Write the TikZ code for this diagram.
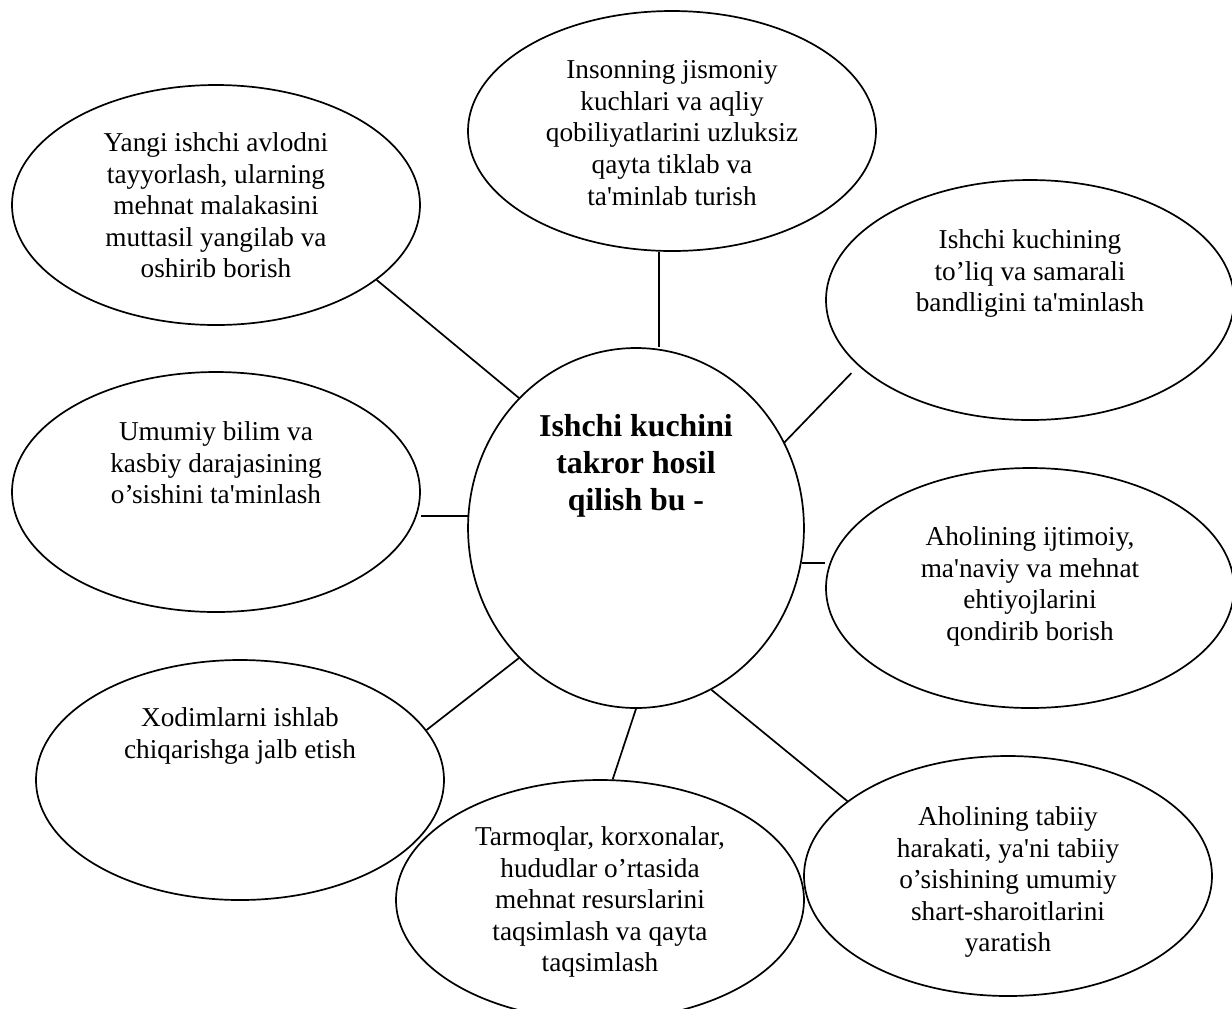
\documentclass[tikz,border=0pt]{standalone}
\usepackage{fontspec}
\setmainfont{Liberation Serif}
\usetikzlibrary{shapes.geometric,positioning}
\newcommand{\tq}{\textquotesingle}

\begin{document}
\begin{tikzpicture}[x=0.44pt, y=-0.44pt,
    bulut/.style={ellipse, draw, line width=0.75pt, inner sep=0pt,
      minimum width=179.5pt, minimum height=105.6pt},
    markazi/.style={bulut, minimum width=147.8pt, minimum height=158.4pt},
    matn/.style={align=center, inner sep=0pt,
      font=\fontsize{12}{13.9}\selectfont},
    bog/.style={line width=0.75pt}]
  \useasboundingbox (0,0) rectangle (1232,1008);
  % markaz va atrofdagi ellipslar
  \node[markazi] (markaz) at (636,528) {};
  \node[bulut] (yangi) at (216,205) {};
  \node[bulut] (inson) at (672,131) {};
  \node[bulut] (bandlik) at (1030,300) {};
  \node[bulut] (bilim) at (216,492) {};
  \node[bulut] (ehtiyoj) at (1030,588) {};
  \node[bulut] (xodim) at (240,780) {};
  \node[bulut] (taqsim) at (600,900) {};
  \node[bulut] (tabiiy) at (1008,876) {};
  % matnlar
  \node[matn, font=\fontsize{14}{16.3}\selectfont\bfseries,
    below=29.5pt of markaz.north] (markazM)
    {Ishchi kuchini\\ takror hosil\\ qilish bu -};
  \node[matn, below=21.1pt of yangi.north] (yangiM)
    {Yangi ishchi avlodni\\ tayyorlash, ularning\\ mehnat malakasini\\
     muttasil yangilab va\\ oshirib borish};
  \node[matn, below=22pt of inson.north] (insonM)
    {Insonning jismoniy\\ kuchlari va aqliy\\ qobiliyatlarini uzluksiz\\
     qayta tiklab va\\ ta\tq minlab turish};
  \node[matn, below=22pt of bandlik.north] (bandlikM)
    {Ishchi kuchining\\ to’liq va samarali\\ bandligini ta\tq minlash};
  \node[matn, below=22pt of bilim.north] (bilimM)
    {Umumiy bilim va\\ kasbiy darajasining\\ o’sishini ta\tq minlash};
  \node[matn, below=26pt of ehtiyoj.north] (ehtiyojM)
    {Aholining ijtimoiy,\\ ma\tq naviy va mehnat\\ ehtiyojlarini\\
     qondirib borish};
  \node[matn, below=21.1pt of xodim.north] (xodimM)
    {Xodimlarni ishlab\\ chiqarishga jalb etish};
  \node[matn, below=20.7pt of taqsim.north] (taqsimM)
    {Tarmoqlar, korxonalar,\\ hududlar o’rtasida\\ mehnat resurslarini\\
     taqsimlash va qayta\\ taqsimlash};
  \node[matn, below=22.4pt of tabiiy.north] (tabiiyM)
    {Aholining tabiiy\\ harakati, ya\tq ni tabiiy\\ o’sishining umumiy\\
     shart-sharoitlarini\\ yaratish};
  % bog'lovchi chiziqlar
  \draw[bog] (yangi.-25) -- (markaz.132);
  \draw[bog] (inson.-96) -- (inson.-96 |- markaz.north);
  \draw[bog, shorten >=4.4pt] (markaz.30) -- (bandlik.201);
  \draw[bog] (markaz.176) -- (markaz.176 -| bilim.east);
  \draw[bog] (markaz.-12) -- (markaz.-12 -| ehtiyoj.west);
  \draw[bog] (markaz.-132) -- (xodim.15);
  \draw[bog] (markaz.south) -- (taqsim.84);
  \draw[bog] (markaz.-65) -- (tabiiy.155);
\end{tikzpicture}
\end{document}
